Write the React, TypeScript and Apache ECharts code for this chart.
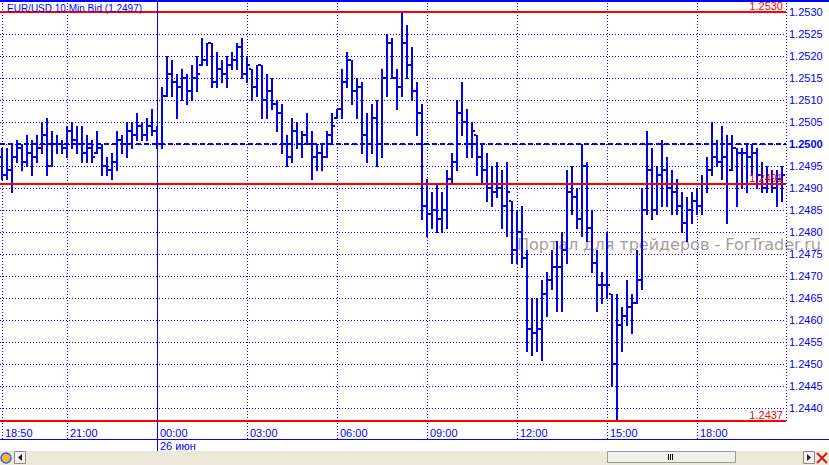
import React, { useEffect, useRef } from "react";
import * as echarts from "echarts";

// ---- data (EUR/USD 10 min bars, 25 Jun 18:50 -> 26 Jun 20:50) ----
const opens = [
  1.2497, 1.2493, 1.2494, 1.2497, 1.2499, 1.2496, 1.2498, 1.2497, 1.2499, 1.2502,
  1.2495, 1.2500, 1.2500, 1.2499, 1.2503, 1.2501, 1.2500, 1.2498, 1.2499, 1.2498,
  1.2499, 1.2495, 1.2494, 1.2496, 1.2501, 1.2500, 1.2503, 1.2502, 1.2504, 1.2502,
  1.2504, 1.2503, 1.2500, 1.2511, 1.2516, 1.2514, 1.2513, 1.2515, 1.2512, 1.2515,
  1.2518, 1.2519, 1.2523, 1.2514, 1.2517, 1.2516, 1.2518, 1.2519, 1.2522, 1.2516,
  1.2517, 1.2513, 1.2518, 1.2510, 1.2512, 1.2509, 1.2507, 1.2500, 1.2497, 1.2503,
  1.2500, 1.2502, 1.2500, 1.2497, 1.2498, 1.2497, 1.2502, 1.2506, 1.2508, 1.2514,
  1.2519, 1.2512, 1.2513, 1.2502, 1.2500, 1.2506, 1.2500, 1.2515, 1.2523, 1.2515,
  1.2513, 1.2523, 1.2518, 1.2512, 1.2507, 1.2486, 1.2484, 1.2485, 1.2483, 1.2485,
  1.2492, 1.2496, 1.2507, 1.2505, 1.2500, 1.2502, 1.2497, 1.2494, 1.2490, 1.2489,
  1.2490, 1.2486, 1.2487, 1.2476, 1.2480, 1.2474, 1.2458, 1.2457, 1.2458, 1.2466,
  1.2469, 1.2472, 1.2472, 1.2476, 1.2489, 1.2488, 1.2483, 1.2495, 1.2481, 1.2473,
  1.2468, 1.2468, 1.2466, 1.2450, 1.2459, 1.2461, 1.2463, 1.2464, 1.2469, 1.2485,
  1.2494, 1.2485, 1.2493, 1.2494, 1.2490, 1.2489, 1.2486, 1.2482, 1.2485, 1.2487,
  1.2486, 1.2491, 1.2494, 1.2497, 1.2496, 1.2497, 1.2494, 1.2499, 1.2498, 1.2498,
  1.2497, 1.2498, 1.2493, 1.2490, 1.2491, 1.2490, 1.2492,
];
const highs = [
  1.2499, 1.2499, 1.2500, 1.2501, 1.2500, 1.2502, 1.2501, 1.2502, 1.2505, 1.2506,
  1.2503, 1.2502, 1.2501, 1.2504, 1.2505, 1.2504, 1.2504, 1.2502, 1.2501, 1.2503,
  1.2500, 1.2497, 1.2498, 1.2503, 1.2502, 1.2505, 1.2505, 1.2507, 1.2505, 1.2506,
  1.2508, 1.2504, 1.2513, 1.2520, 1.2519, 1.2516, 1.2517, 1.2516, 1.2518, 1.2520,
  1.2524, 1.2523, 1.2523, 1.2521, 1.2519, 1.2520, 1.2521, 1.2523, 1.2524, 1.2520,
  1.2517, 1.2518, 1.2518, 1.2516, 1.2515, 1.2510, 1.2509, 1.2502, 1.2506, 1.2505,
  1.2503, 1.2507, 1.2503, 1.2500, 1.2500, 1.2503, 1.2507, 1.2508, 1.2517, 1.2521,
  1.2519, 1.2515, 1.2514, 1.2507, 1.2509, 1.2510, 1.2517, 1.2525, 1.2524, 1.2517,
  1.2530, 1.2527, 1.2522, 1.2514, 1.2509, 1.2492, 1.2489, 1.2491, 1.2489, 1.2494,
  1.2498, 1.2510, 1.2514, 1.2508, 1.2505, 1.2502, 1.2500, 1.2498, 1.2495, 1.2496,
  1.2494, 1.2496, 1.2487, 1.2485, 1.2486, 1.2476, 1.2465, 1.2465, 1.2469, 1.2471,
  1.2476, 1.2478, 1.2480, 1.2494, 1.2495, 1.2490, 1.2500, 1.2496, 1.2485, 1.2476,
  1.2471, 1.2480, 1.2466, 1.2466, 1.2463, 1.2469, 1.2466, 1.2476, 1.2490, 1.2503,
  1.2499, 1.2495, 1.2501, 1.2497, 1.2494, 1.2492, 1.2489, 1.2488, 1.2489, 1.2490,
  1.2493, 1.2497, 1.2505, 1.2501, 1.2504, 1.2502, 1.2502, 1.2499, 1.2499, 1.2500,
  1.2500, 1.2499, 1.2496, 1.2495, 1.2494, 1.2494, 1.2495,
];
const lows = [
  1.2492, 1.2492, 1.2489, 1.2496, 1.2494, 1.2495, 1.2493, 1.2496, 1.2498, 1.2493,
  1.2495, 1.2498, 1.2498, 1.2497, 1.2499, 1.2498, 1.2496, 1.2496, 1.2496, 1.2498,
  1.2493, 1.2493, 1.2492, 1.2494, 1.2498, 1.2497, 1.2499, 1.2501, 1.2501, 1.2501,
  1.2502, 1.2499, 1.2499, 1.2511, 1.2511, 1.2506, 1.2510, 1.2509, 1.2510, 1.2512,
  1.2518, 1.2518, 1.2513, 1.2513, 1.2514, 1.2513, 1.2517, 1.2517, 1.2515, 1.2514,
  1.2510, 1.2511, 1.2506, 1.2506, 1.2508, 1.2503, 1.2498, 1.2495, 1.2496, 1.2499,
  1.2497, 1.2500, 1.2492, 1.2494, 1.2494, 1.2497, 1.2500, 1.2506, 1.2506, 1.2513,
  1.2509, 1.2506, 1.2498, 1.2496, 1.2498, 1.2495, 1.2497, 1.2511, 1.2515, 1.2508,
  1.2511, 1.2515, 1.2510, 1.2502, 1.2483, 1.2479, 1.2481, 1.2480, 1.2480, 1.2481,
  1.2491, 1.2494, 1.2502, 1.2497, 1.2497, 1.2493, 1.2491, 1.2487, 1.2486, 1.2488,
  1.2481, 1.2479, 1.2473, 1.2473, 1.2472, 1.2453, 1.2452, 1.2453, 1.2451, 1.2461,
  1.2467, 1.2462, 1.2462, 1.2473, 1.2484, 1.2481, 1.2479, 1.2478, 1.2471, 1.2462,
  1.2464, 1.2465, 1.2445, 1.2437, 1.2453, 1.2459, 1.2457, 1.2464, 1.2467, 1.2484,
  1.2483, 1.2484, 1.2486, 1.2486, 1.2484, 1.2484, 1.2480, 1.2478, 1.2482, 1.2484,
  1.2484, 1.2489, 1.2493, 1.2495, 1.2492, 1.2482, 1.2494, 1.2486, 1.2490, 1.2489,
  1.2493, 1.2490, 1.2489, 1.2489, 1.2489, 1.2486, 1.2487,
];
const closes = [
  1.2493, 1.2494, 1.2497, 1.2499, 1.2496, 1.2498, 1.2497, 1.2499, 1.2502, 1.2495,
  1.2500, 1.2500, 1.2499, 1.2503, 1.2501, 1.2500, 1.2498, 1.2499, 1.2497, 1.2499,
  1.2495, 1.2494, 1.2496, 1.2501, 1.2500, 1.2503, 1.2502, 1.2504, 1.2502, 1.2504,
  1.2503, 1.2500, 1.2511, 1.2516, 1.2514, 1.2513, 1.2515, 1.2512, 1.2515, 1.2516,
  1.2519, 1.2523, 1.2514, 1.2517, 1.2516, 1.2518, 1.2519, 1.2522, 1.2516, 1.2518,
  1.2513, 1.2518, 1.2510, 1.2512, 1.2509, 1.2507, 1.2500, 1.2497, 1.2503, 1.2500,
  1.2502, 1.2500, 1.2497, 1.2498, 1.2497, 1.2502, 1.2504, 1.2508, 1.2514, 1.2519,
  1.2512, 1.2513, 1.2502, 1.2500, 1.2506, 1.2500, 1.2515, 1.2523, 1.2515, 1.2513,
  1.2523, 1.2518, 1.2512, 1.2507, 1.2486, 1.2484, 1.2485, 1.2483, 1.2485, 1.2492,
  1.2496, 1.2507, 1.2505, 1.2500, 1.2503, 1.2497, 1.2494, 1.2490, 1.2489, 1.2490,
  1.2486, 1.2489, 1.2476, 1.2480, 1.2474, 1.2458, 1.2457, 1.2458, 1.2466, 1.2469,
  1.2472, 1.2472, 1.2476, 1.2489, 1.2488, 1.2483, 1.2495, 1.2481, 1.2473, 1.2468,
  1.2468, 1.2468, 1.2450, 1.2459, 1.2461, 1.2463, 1.2464, 1.2469, 1.2485, 1.2494,
  1.2485, 1.2493, 1.2494, 1.2490, 1.2489, 1.2486, 1.2482, 1.2485, 1.2487, 1.2486,
  1.2491, 1.2494, 1.2497, 1.2496, 1.2497, 1.2491, 1.2499, 1.2498, 1.2498, 1.2497,
  1.2498, 1.2493, 1.2490, 1.2491, 1.2490, 1.2492, 1.2493,
];

const timeTickIndex = [0, 13, 31, 49, 67, 85, 103, 121, 139];
const timeTickLabels = ["18:50", "21:00", "00:00", "03:00", "06:00", "09:00", "12:00", "15:00", "18:00"];
const dayBreakIndex = 31;
const dayBreakLabel = "26 июн";
const priceTicks = [
  1.244, 1.2445, 1.245, 1.2455, 1.246, 1.2465, 1.247, 1.2475, 1.248, 1.2485,
  1.249, 1.2495, 1.25, 1.2505, 1.251, 1.2515, 1.252, 1.2525, 1.253,
];
const boldTick = 1.25;
const redLevels = [1.253, 1.2491, 1.2437];
const dashedLevel = 1.25;
const titleText = "EUR/USD 10 Min Bid (1.2497)";
const watermarkText = "Портал для трейдеров - ForTrader.ru";

// ---- layout / style ----
const W = 829;
const H = 465;
const PLOT_W = 786;
const FRAME_H = 439;
const X_MIN = -0.4;
const X_MAX = 156.8;
const Y_MIN = 1.2433;
const Y_MAX = 1.25327;
const BLUE = "#0000ff";
const BAR = "#0000f4";
const RED = "#ff0000";
const FONT = "Liberation Sans, Arial, sans-serif";

export default function App() {
  const ref = useRef<HTMLDivElement>(null);

  useEffect(() => {
    if (!ref.current) return;
    const chart = echarts.init(ref.current, undefined, { renderer: "svg" });
    const data = opens.map((o, i) => [i, o, highs[i], lows[i], closes[i]]);
    const levelData = [
      [0, dashedLevel, 0],
      ...redLevels.map((v) => [0, v, 1]),
    ];

    const renderBar = (_params: any, api: any) => {
      const i = api.value(0);
      const o = api.coord([i, api.value(1)]);
      const h = api.coord([i, api.value(2)]);
      const l = api.coord([i, api.value(3)]);
      const c = api.coord([i, api.value(4)]);
      const x = Math.round(o[0]);
      const style = { fill: BAR };
      const yh = Math.round(h[1]);
      const yl = Math.round(l[1]);
      return {
        type: "group",
        children: [
          { type: "rect", shape: { x: x - 1, y: yh, width: 2, height: Math.max(2, yl - yh + 1) }, style },
          { type: "rect", shape: { x: x - 3, y: Math.round(o[1]) - 1, width: 2, height: 2 }, style },
          { type: "rect", shape: { x: x + 1, y: Math.round(c[1]) - 1, width: 2, height: 2 }, style },
        ],
      };
    };

    const renderLevel = (params: any, api: any) => {
      const v = api.value(1);
      const kind = api.value(2);
      const cs = params.coordSys;
      const y = Math.round(api.coord([api.value(0), v])[1]);
      if (kind === 0) {
        return {
          type: "line",
          shape: { x1: cs.x, y1: y, x2: cs.x + cs.width, y2: y },
          style: { stroke: BLUE, lineWidth: 2, lineDash: [5, 3] },
        };
      }
      return {
        type: "group",
        children: [
          {
            type: "line",
            shape: { x1: cs.x, y1: y, x2: cs.x + cs.width, y2: y },
            style: { stroke: RED, lineWidth: 2 },
          },
          {
            type: "text",
            x: cs.x + cs.width - 3,
            y: y - 1,
            style: {
              text: v.toFixed(4),
              fill: RED,
              font: `11px ${FONT}`,
              textAlign: "right",
              textVerticalAlign: "bottom",
            },
          },
        ],
      };
    };

    chart.setOption({
      animation: false,
      backgroundColor: "#ffffff",
      textStyle: { fontFamily: FONT },
      grid: { left: 0, top: 0, width: PLOT_W, height: FRAME_H, containLabel: false },
      xAxis: {
        type: "value",
        min: X_MIN,
        max: X_MAX,
        axisLine: { show: false },
        axisTick: { show: false, customValues: timeTickIndex },
        axisLabel: {
          customValues: timeTickIndex,
          inside: true,
          margin: 1,
          align: "left",
          padding: [0, 0, 0, 3],
          color: BLUE,
          fontSize: 11,
          fontFamily: FONT,
          formatter: (v: number) => {
            const k = timeTickIndex.indexOf(Math.round(v));
            return k >= 0 ? timeTickLabels[k] : "";
          },
        },
        splitLine: { show: true, lineStyle: { color: BLUE, width: 1, type: [1, 2] } },
      },
      yAxis: {
        type: "value",
        position: "right",
        min: Y_MIN,
        max: Y_MAX,
        axisLine: { show: false },
        axisTick: { show: false, customValues: priceTicks },
        axisLabel: {
          customValues: priceTicks,
          margin: 3,
          color: BLUE,
          fontSize: 11,
          fontFamily: FONT,
          formatter: (v: number) =>
            Math.abs(v - boldTick) < 1e-9 ? `{b|${v.toFixed(4)}}` : v.toFixed(4),
          rich: { b: { fontWeight: "bold", color: BLUE, fontSize: 11, fontFamily: FONT } },
        },
        splitLine: { show: true, lineStyle: { color: BLUE, width: 1, type: [1, 2] } },
      },
      series: [
        {
          type: "custom",
          name: "bars",
          renderItem: renderBar,
          data,
          encode: { x: 0, y: [1, 2, 3, 4] },
          clip: false,
          z: 3,
          silent: true,
        },
        {
          type: "custom",
          name: "levels",
          renderItem: renderLevel,
          data: levelData,
          encode: { x: 0, y: 1 },
          clip: false,
          z: 4,
          silent: true,
        },
      ],
    });

    const dayX = Math.round(chart.convertToPixel({ xAxisIndex: 0 }, dayBreakIndex) as number);

    chart.setOption({
      graphic: [
        {
          type: "text",
          z: 1,
          x: 821,
          y: 244,
          style: {
            text: watermarkText,
            fill: "#a89c9c",
            font: "16px 'DejaVu Sans', sans-serif",
            textAlign: "right",
            textVerticalAlign: "middle",
          },
        },
        { type: "rect", z: 10, shape: { x: 0, y: 0, width: W, height: 2 }, style: { fill: BLUE } },
        {
          type: "text",
          z: 10,
          x: 7,
          y: 8,
          style: { text: titleText, fill: BLUE, font: `10px ${FONT}`, textVerticalAlign: "middle" },
        },
        {
          type: "line",
          z: 10,
          shape: { x1: PLOT_W + 0.5, y1: 0, x2: PLOT_W + 0.5, y2: 422 },
          style: { stroke: BLUE, lineWidth: 1, lineDash: [1, 2] },
        },
        {
          type: "line",
          z: 10,
          shape: { x1: 0, y1: FRAME_H + 0.5, x2: W, y2: FRAME_H + 0.5 },
          style: { stroke: BLUE, lineWidth: 1 },
        },
        {
          type: "line",
          z: 10,
          shape: { x1: dayX + 0.5, y1: 0, x2: dayX + 0.5, y2: 451 },
          style: { stroke: BLUE, lineWidth: 1 },
        },
        {
          type: "text",
          z: 10,
          x: dayX + 3,
          y: 446,
          style: { text: dayBreakLabel, fill: BLUE, font: `11px ${FONT}`, textVerticalAlign: "middle" },
        },
        // bottom scroll strip
        { type: "rect", z: 10, shape: { x: 0, y: 451, width: W, height: H - 451 }, style: { fill: "#ece9d8" } },
        { type: "circle", z: 11, shape: { cx: 6, cy: 458, r: 5 }, style: { fill: "#e8b84a", stroke: "#3a6ab0", lineWidth: 1.5 } },
        { type: "rect", z: 11, shape: { x: 14.5, y: 451.5, width: 11, height: 12 }, style: { fill: "#f4f3ee", stroke: "#8a8a8a" } },
        { type: "polygon", z: 12, shape: { points: [[22, 454], [22, 461], [18, 457.5]] }, style: { fill: "#222" } },
        { type: "rect", z: 11, shape: { x: 607.5, y: 451.5, width: 128, height: 11 }, style: { fill: "#f2f1ec", stroke: "#9a9a9a" } },
        { type: "rect", z: 12, shape: { x: 668, y: 454, width: 1, height: 6 }, style: { fill: "#000" } },
        { type: "rect", z: 12, shape: { x: 670, y: 454, width: 1, height: 6 }, style: { fill: "#000" } },
        { type: "rect", z: 12, shape: { x: 672, y: 454, width: 1, height: 6 }, style: { fill: "#000" } },
        { type: "rect", z: 11, shape: { x: 803.5, y: 451.5, width: 11, height: 12 }, style: { fill: "#f4f3ee", stroke: "#8a8a8a" } },
        { type: "polygon", z: 12, shape: { points: [[807, 454], [807, 461], [811, 457.5]] }, style: { fill: "#222" } },
        { type: "line", z: 12, shape: { x1: 817, y1: 453, x2: 827, y2: 463 }, style: { stroke: "#d01818", lineWidth: 2 } },
        { type: "line", z: 12, shape: { x1: 827, y1: 453, x2: 817, y2: 463 }, style: { stroke: "#d01818", lineWidth: 2 } },
      ],
    });

    return () => chart.dispose();
  }, []);

  return (
    <div
      ref={ref}
      style={{ position: "absolute", left: 0, top: 0, width: W, height: H, background: "#fff" }}
    />
  );
}
